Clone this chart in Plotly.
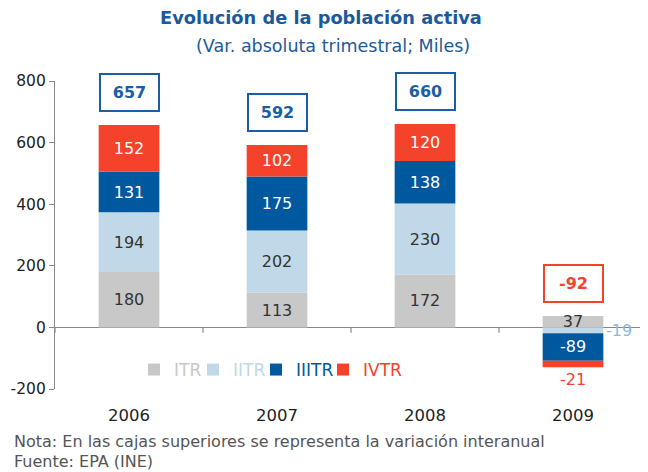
import plotly.graph_objects as go

years = ["2006", "2007", "2008", "2009"]
itr = [180, 113, 172, 37]
iitr = [194, 202, 230, -19]
iiitr = [131, 175, 138, -89]
ivtr = [152, 102, 120, -21]
interanual = [657, 592, 660, -92]
y_ticks = [-200, 0, 200, 400, 600, 800]

series_names = ["ITR", "IITR", "IIITR", "IVTR"]
colors = ["#c8c8c8", "#c0d8e8", "#00589f", "#f4422b"]
label_colors = ["#333333", "#333333", "#ffffff", "#ffffff"]
FONT = "DejaVu Sans, Verdana, sans-serif"

xpos = list(range(len(years)))
all_series = [itr, iitr, iiitr, ivtr]
legend_ids = ["legend", "legend2", "legend3", "legend4"]
legend_px = [153, 212, 275, 342]  # left edge of each legend swatch (px)

fig = go.Figure()
for i, vals in enumerate(all_series):
    textpos = []
    for j, v in enumerate(vals):
        if i == 1 and v < 0:
            textpos.append("none")
        elif i == 3 and v < 0:
            textpos.append("outside")
        else:
            textpos.append("inside")
    fig.add_trace(go.Bar(
        x=xpos, y=vals, name=f"<span style='color:{colors[i]}'>{series_names[i]}</span>",
        marker=dict(color=colors[i], line=dict(width=0)),
        text=[str(v) for v in vals], textposition=textpos,
        insidetextanchor="middle", constraintext="none",
        insidetextfont=dict(color=label_colors[i], size=16, family=FONT),
        outsidetextfont=dict(color=colors[i], size=16, family=FONT),
        width=0.41, cliponaxis=False, hoverinfo="skip", legend=legend_ids[i],
    ))

# small downward ticks at category boundaries on the zero line
bounds = [k - 0.5 for k in range(len(years) + 1)]
fig.add_trace(go.Scatter(
    x=bounds, y=[0] * len(bounds), mode="markers", marker=dict(size=1, color="rgba(0,0,0,0)"),
    error_y=dict(type="data", symmetric=False, array=[0] * len(bounds), arrayminus=[17] * len(bounds),
                 color="#888888", thickness=1.2, width=0),
    showlegend=False, hoverinfo="skip", cliponaxis=False,
))

# -19 label to the right of the 2009 bar
for j, v in enumerate(iitr):
    if v < 0:
        fig.add_annotation(x=xpos[j], y=v / 2, text=str(v), showarrow=False,
                           xanchor="left", xshift=31, font=dict(color="#8fb8d8", size=16, family=FONT))

# top boxes with year-on-year variation
for j in xpos:
    top = sum(max(s[j], 0) for s in all_series)
    c = "#f4422b" if interanual[j] < 0 else "#1a5ea6"
    fig.add_annotation(x=j, y=top, yshift=33, text=f"<b>{interanual[j]}</b>", showarrow=False,
                       font=dict(color=c, size=16, family=FONT), bordercolor=c, borderwidth=2,
                       bgcolor="white", width=55, height=33, borderpad=1, yanchor="middle")

# title
fig.add_annotation(xref="paper", yref="paper", x=(321 - 55) / 592, y=(389 - 18) / 308,
                   text="<b>Evolución de la población activa</b>", showarrow=False,
                   font=dict(color="#1a5a9c", size=17.8, family=FONT), yanchor="middle")
fig.add_annotation(xref="paper", yref="paper", x=(333 - 55) / 592, y=(389 - 46) / 308,
                   text="(Var. absoluta trimestral; Miles)", showarrow=False,
                   font=dict(color="#1a5a9c", size=17.5, family=FONT), yanchor="middle")
# notes
fig.add_annotation(xref="paper", yref="paper", x=(12 - 55) / 592, y=(389 - 441) / 308,
                   text="Nota: En las cajas superiores se representa la variación interanual",
                   showarrow=False, xanchor="left", yanchor="middle",
                   font=dict(color="#555555", size=16, family=FONT))
fig.add_annotation(xref="paper", yref="paper", x=(12 - 55) / 592, y=(389 - 462) / 308,
                   text="Fuente: EPA (INE)", showarrow=False, xanchor="left", yanchor="middle",
                   font=dict(color="#555555", size=16, family=FONT))

legends = {}
for k, lid in enumerate(legend_ids):
    legends[lid] = dict(orientation="h", x=(legend_px[k] - 19 - 55) / 592, y=(389 - 370) / 308,
                        xanchor="left", yanchor="middle", bgcolor="rgba(0,0,0,0)",
                        font=dict(size=17, family=FONT), itemwidth=30)

# the page body has an 8px default margin, so the figure is drawn 8px smaller
fig.update_layout(
    width=640, height=464, barmode="relative",
    margin=dict(l=47, r=1, t=73, b=83, autoexpand=False),
    plot_bgcolor="white", paper_bgcolor="white",
    font=dict(family=FONT, size=16, color="#222222"),
    showlegend=True,
    xaxis=dict(range=[-0.5, 3.5], tickvals=xpos, ticktext=years, showline=False, ticks="",
               showgrid=False, zeroline=False, automargin=False,
               tickfont=dict(size=16.5, color="#222222"), ticklabelstandoff=14),
    yaxis=dict(range=[-200, 800], tickvals=y_ticks, ticktext=[str(v) for v in y_ticks], showline=True,
               linecolor="#888888", linewidth=1.2, ticks="outside", ticklen=5, tickcolor="#888888",
               showgrid=False, zeroline=True, zerolinecolor="#888888", zerolinewidth=1.2,
               automargin=False, tickfont=dict(size=15.5, color="#222222")),
    **legends,
)

fig.write_html("out.html")
